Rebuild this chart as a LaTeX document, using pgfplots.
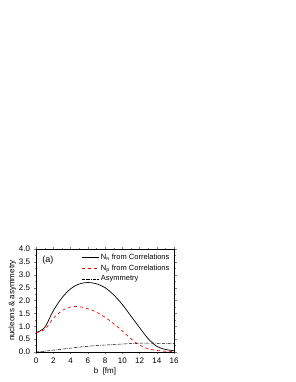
\documentclass[border=0pt]{standalone}
\usepackage{pgfplots}
\pgfplotsset{compat=1.18}
\usepackage{fontspec}
\setmainfont{Liberation Sans}
\begin{document}
\begin{tikzpicture}
\path[use as bounding box] (0pt,0pt) rectangle (295pt,382pt);
\begin{axis}[
  at={(36pt,30pt)}, anchor=south west,
  width=138pt, height=103pt, scale only axis,
  xmin=0, xmax=16, ymin=0, ymax=4,
  xtick={0,2,...,16}, ytick={0,0.5,...,4},
  minor x tick num=1, minor y tick num=1,
  tick align=outside,
  major tick length=2.5pt, minor tick length=1.5pt,
  tick label style={font=\fontsize{8}{9}\selectfont},
  /pgf/number format/assume math mode=true,
  /pgf/number format/.cd, fixed, fixed zerofill, precision=1, /pgfplots/.cd,
  xticklabel={\pgfmathprintnumber[precision=0,fixed zerofill=false]{\tick}},
  xlabel={b\ \ [fm]}, ylabel={nucleons \& asymmetry},
  label style={font=\fontsize{8}{9}\selectfont},
  xlabel style={yshift=3pt},
  ylabel style={yshift=-4pt},
  legend style={draw=none, fill=none, at={(0.99,0.985)}, anchor=north east,
    font=\fontsize{7.5}{8}\selectfont, row sep=0pt, inner sep=1pt},
  legend cell align=left,
]
\addplot[black, line width=0.7pt, smooth] coordinates {
(0,0.75)(1,0.95)(2,1.6)(3,2.1)(4,2.45)(5,2.64)(6,2.7)(7,2.65)(8,2.5)(9,2.22)(10,1.85)(11,1.4)(12,0.95)(13,0.52)(14,0.22)(15,0.1)(16,0.05)};
\addlegendentry{N$_\mathrm{n}$ from Correlations}
\addplot[red, line width=0.7pt, dashed, smooth] coordinates {
(0,0.75)(1,0.87)(2,1.3)(3,1.6)(4,1.75)(5,1.76)(6,1.68)(7,1.55)(8,1.35)(9,1.1)(10,0.82)(11,0.52)(12,0.27)(13,0.13)(14,0.06)(15,0.03)(16,0.02)};
\addlegendentry{N$_\mathrm{p}$ from Correlations}
\addplot[black, line width=0.5pt, densely dashdotted, smooth] coordinates {
(0,0.0)(1,0.03)(2,0.07)(3,0.11)(4,0.15)(5,0.19)(6,0.22)(7,0.25)(8,0.27)(9,0.29)(10,0.31)(11,0.33)(12,0.34)(13,0.345)(14,0.34)(15,0.335)(16,0.33)};
\addlegendentry{Asymmetry}
\node[anchor=north west, font=\fontsize{9}{10}\selectfont] at (rel axis cs:0.02,0.97) {(a)};
\end{axis}
\end{tikzpicture}
\end{document}
